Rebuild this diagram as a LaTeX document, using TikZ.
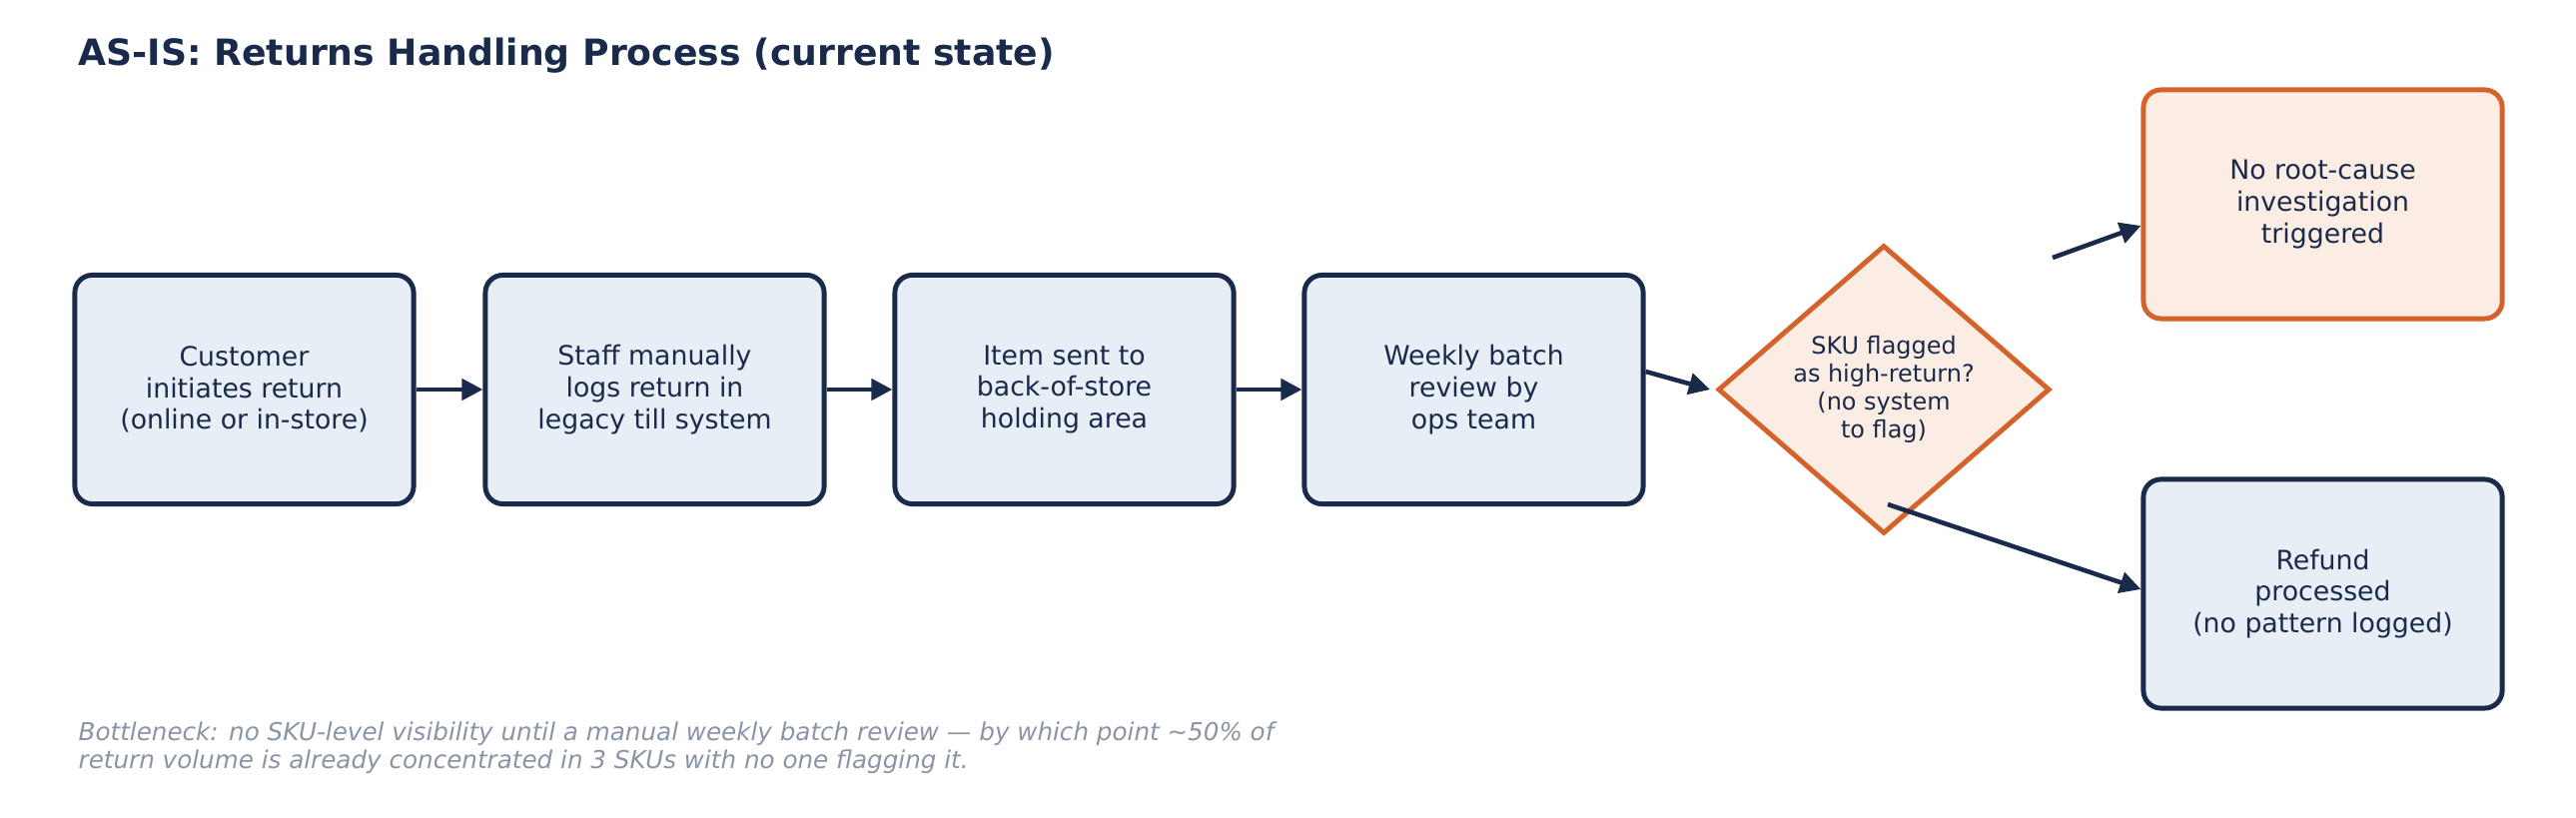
\documentclass[tikz,border=0pt]{standalone}
\usepackage{fontspec}
\setmainfont{DejaVu Sans}
\usetikzlibrary{shapes.geometric,arrows.meta}
\definecolor{navy}{HTML}{1A2A4A}
\definecolor{bfill}{HTML}{E8EEF6}
\definecolor{orn}{HTML}{D4622A}
\definecolor{ofill}{HTML}{FCEDE4}
\definecolor{gr}{HTML}{8A94A6}
\begin{document}
\begin{tikzpicture}[x=0.01cm,y=-0.01cm,
 box/.style={draw=navy,fill=bfill,line width=1.4pt,rounded corners=5pt,minimum width=3.39cm,minimum height=2.29cm,align=center,text=navy,font=\fontsize{7.6}{9}\selectfont},
 obox/.style={box,draw=orn,fill=ofill},
 dia/.style={diamond,draw=orn,fill=ofill,line width=1.4pt,minimum width=3.32cm,minimum height=2.78cm,inner sep=0pt,align=center,text=navy,font=\fontsize{6.8}{8}\selectfont},
 arr/.style={-{Triangle[length=6pt,width=6pt]},draw=navy,line width=1.3pt}]
\useasboundingbox (0,0) rectangle (2579,819);
\node[anchor=base west,inner sep=0pt,text=navy,font=\bfseries\fontsize{10.3}{12}\selectfont] (title) at (78,66) {AS-IS: Returns Handling Process (current state)};
\node[box] (b1) at (244.5,390) {Customer\\initiates return\\(online or in-store)};
\node[box] (b2) at (655.5,390) {Staff manually\\logs return in\\legacy till system};
\node[box] (b3) at (1065.5,390) {Item sent to\\back-of-store\\holding area};
\node[box] (b4) at (1475.5,390) {Weekly batch\\review by\\ops team};
\node[dia] (d) at (1886,390) {SKU flagged\\as high-return?\\(no system\\to flag)};
\node[obox,minimum width=3.59cm] (t) at (2325.5,204.5) {No root-cause\\investigation\\triggered};
\node[box,minimum width=3.59cm] (r) at (2325.5,594.5) {Refund\\processed\\(no pattern logged)};
\draw[arr] (b1) -- (b2);
\draw[arr] (b2) -- (b3);
\draw[arr] (b3) -- (b4);
\coordinate (c1) at (1712,390);
\draw[arr] (b4.east |- 0,372) -- (c1);
\coordinate (s1) at (2055,258);
\coordinate (s2) at (1890,505);
\draw[arr] (s1) -- (t.west |- 0,226);
\draw[arr] (s2) -- (r.west |- 0,590);
\node[anchor=north west,inner sep=0pt,align=left,text=gr,font=\itshape\fontsize{7.0}{8.1}\selectfont] (foot) at (78,722) {Bottleneck: no SKU-level visibility until a manual weekly batch review — by which point \textasciitilde50\% of\\return volume is already concentrated in 3 SKUs with no one flagging it.};
\end{tikzpicture}
\end{document}
